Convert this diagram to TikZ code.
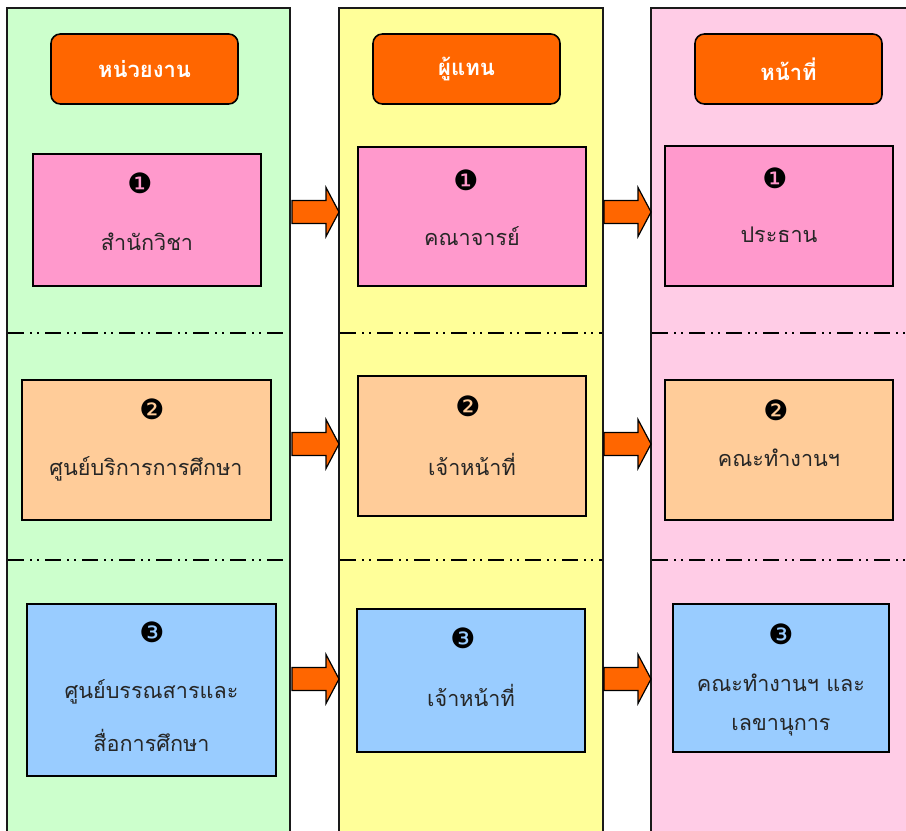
\documentclass[tikz,border=0pt]{standalone}
\usepackage{fontspec}
\newfontfamily\thaifont[Script=Thai]{Loma}
\newfontfamily\symfont{DejaVu Sans}
\usetikzlibrary{calc}
\definecolor{colgreen}{HTML}{CCFFCC}
\definecolor{colyellow}{HTML}{FFFF99}
\definecolor{colpink}{HTML}{FFCCE6}
\definecolor{hdrorange}{HTML}{FF6600}
\definecolor{boxpink}{HTML}{FF99CC}
\definecolor{boxpeach}{HTML}{FFCC99}
\definecolor{boxblue}{HTML}{99CCFF}
\definecolor{edge}{HTML}{1A1A1A}
\tikzset{
  colborder/.style={draw=edge, line width=1.6pt},
  hdr/.style={draw=black, line width=1.2pt, fill=hdrorange, rounded corners=7pt,
    text=white, font=\thaifont\bfseries\fontsize{16.5}{19}\selectfont, inner sep=0pt},
  box/.style={draw=black, line width=1.1pt, inner sep=0pt},
  num/.style={font=\symfont\fontsize{21}{22}\selectfont, inner sep=0pt},
  lbl/.style={font=\thaifont\fontsize{16.2}{19}\selectfont, inner sep=0pt, text=black!85},
  sep/.style={line width=1.4pt, dash pattern=on 12pt off 4.5pt on 1.5pt off 3.75pt on 1.5pt off 4.5pt},
  blockarrow/.style={fill=hdrorange, draw=black, line width=0.9pt, line join=miter},
}
\newcommand\mkbox[7]{% name x1 y1 x2 y2 fill
  \node[box, fill=#6, minimum width={(#4-#2)*0.75pt}, minimum height={(#5-#3)*0.75pt}]
    (#1) at ({(#2+#4)/2},{(#3+#5)/2}) {};}
\newcommand\mkarrow[3]{% name xstart y
  \coordinate (#1s) at (#2,#3);
  \coordinate (#1e) at ({#2+47},#3);
  \draw[blockarrow] ($(#1s)+(0,-11.5)$) -- ($(#1s)+(34,-11.5)$) -- ($(#1s)+(34,-24.5)$)
    -- (#1e) -- ($(#1s)+(34,24.5)$) -- ($(#1s)+(34,11.5)$) -- ($(#1s)+(0,11.5)$) -- cycle;}
\begin{document}
\begin{tikzpicture}[x=0.75pt, y=-0.75pt]
\useasboundingbox (0,0) rectangle (906,831);
\begin{scope}
\clip (0,0) rectangle (906,831);
% columns
\fill[colgreen] (7,8) rectangle (290,840);
\draw[colborder] (7,840) -- (7,8) -- (290,8) -- (290,840);
\fill[colyellow] (339,8) rectangle (603,840);
\draw[colborder] (339,840) -- (339,8) -- (603,8) -- (603,840);
\fill[colpink] (651,8) rectangle (920,840);
\draw[colborder] (651,840) -- (651,8) -- (920,8);
% separators
\foreach \yy in {333,560}{
  \draw[sep] (8,\yy) -- (289,\yy);
  \draw[sep] (340,\yy) -- (602,\yy);
  \draw[sep] (652,\yy) -- (906,\yy);
}
\end{scope}
% headers
\node[hdr, minimum width={187*0.75pt}, minimum height={70*0.75pt}] (h1) at (144.5,69) {หน่วยงาน};
\node[hdr, minimum width={187*0.75pt}, minimum height={70*0.75pt}] (h2) at (466.5,69) {ผู้แทน};
\node[hdr, minimum width={187*0.75pt}, minimum height={70*0.75pt}] (h3) at (788.5,69) {หน้าที่};
% row 1
\mkbox{g1}{33}{154}{261}{286}{boxpink}{}
\mkbox{y1}{358}{147}{586}{286}{boxpink}{}
\mkbox{p1}{665}{146}{893}{286}{boxpink}{}
\node[num] (g1n) at (140,183) {❶};
\node[lbl] (g1t) at (147,242) {สำนักวิชา};
\node[num] (y1n) at (466,180) {❶};
\node[lbl] (y1t) at (472,236) {คณาจารย์};
\node[num] (p1n) at (775,178) {❶};
\node[lbl] (p1t) at (779,235) {ประธาน};
% row 2
\mkbox{g2}{22}{380}{271}{520}{boxpeach}{}
\mkbox{y2}{358}{376}{586}{516}{boxpeach}{}
\mkbox{p2}{665}{380}{893}{520}{boxpeach}{}
\node[num] (g2n) at (152,409) {❷};
\node[lbl] (g2t) at (146,469) {ศูนย์บริการการศึกษา};
\node[num] (y2n) at (468,406) {❷};
\node[lbl] (y2t) at (472,464) {เจ้าหน้าที่};
\node[num] (p2n) at (776,410) {❷};
\node[lbl] (p2t) at (779,458) {คณะทำงานฯ};
% row 3
\mkbox{g3}{27}{604}{276}{776}{boxblue}{}
\mkbox{y3}{357}{609}{585}{752}{boxblue}{}
\mkbox{p3}{673}{604}{889}{752}{boxblue}{}
\node[num] (g3n) at (152,632) {❸};
\node[lbl] (g3t) at (151.5,692) {ศูนย์บรรณสารและ};
\node[lbl] (g3u) at (151.5,740) {สื่อการศึกษา};
\node[num] (y3n) at (463,638) {❸};
\node[lbl] (y3t) at (471,695) {เจ้าหน้าที่};
\node[num] (p3n) at (781,634) {❸};
\node[lbl] (p3t) at (781,683) {คณะทำงานฯ และ};
\node[lbl] (p3u) at (781,727) {เลขานุการ};
% arrows
\mkarrow{a1}{292}{212}
\mkarrow{a2}{604}{212}
\mkarrow{a3}{292}{444}
\mkarrow{a4}{604}{444}
\mkarrow{a5}{292}{679}
\mkarrow{a6}{604}{679}
\end{tikzpicture}
\end{document}
